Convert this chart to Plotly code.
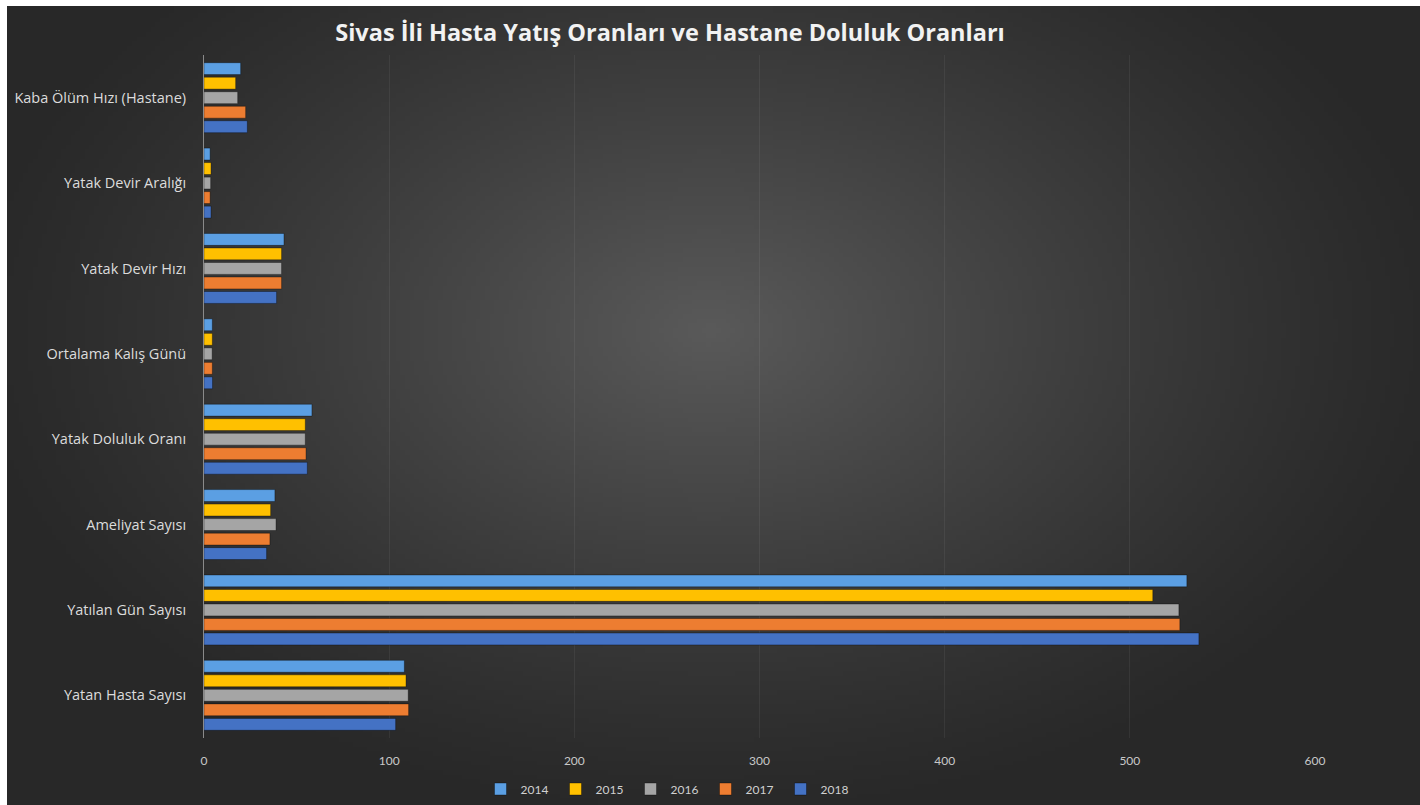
import base64, struct, zlib
import numpy as np
import plotly.graph_objects as go

categories = ["Kaba Ölüm Hızı (Hastane)", "Yatak Devir Aralığı", "Yatak Devir Hızı",
              "Ortalama Kalış Günü", "Yatak Doluluk Oranı", "Ameliyat Sayısı",
              "Yatılan Gün Sayısı", "Yatan Hasta Sayısı"]
years = ["2014", "2015", "2016", "2017", "2018"]
v2014 = [19.8, 3.3, 43.2, 4.5, 58.3, 38.3, 530.8, 108.2]
v2015 = [17.1, 3.8, 41.9, 4.5, 54.7, 36.0, 512.4, 109.1]
v2016 = [18.2, 3.6, 41.9, 4.4, 54.7, 38.9, 526.5, 110.3]
v2017 = [22.5, 3.3, 41.9, 4.5, 55.1, 35.6, 527.0, 110.5]
v2018 = [23.4, 3.8, 39.2, 4.6, 55.8, 33.8, 537.3, 103.5]
series = [v2014, v2015, v2016, v2017, v2018]
colors = ["#5b9fe3", "#ffc000", "#a5a5a5", "#ed7d31", "#4472c4"]
x_ticks = [0, 100, 200, 300, 400, 500, 600]

TITLE = "Sivas İli Hasta Yatış Oranları ve Hastane Doluluk Oranları"

FW, FH = 1420, 805
L, R, T, B = 204, FW - 1315, 55, FH - 738
W, H = FW - L - R, FH - T - B
bx0, by0 = 7, 6  # white strip at top/left of the reference

# ---- background radial gradient image ----
gw, gh = 300, 170
xs = np.linspace(bx0, FW, gw)
ys = np.linspace(by0, FH, gh)
X, Y = np.meshgrid(xs, ys)
cx, cy, rx, ry = 710, 330, 760, 500
d = np.clip(np.sqrt(((X - cx) / rx) ** 2 + ((Y - cy) / ry) ** 2), 0, 1)
val = 40 + 50 * (1 - d) ** 1.2
img = np.stack([val, val, val], axis=-1).astype(np.uint8)


def to_png(arr):
    h, w, _ = arr.shape
    raw = b"".join(b"\x00" + arr[i].tobytes() for i in range(h))

    def chunk(tag, data):
        c = tag + data
        return struct.pack(">I", len(data)) + c + struct.pack(">I", zlib.crc32(c) & 0xFFFFFFFF)

    return (b"\x89PNG\r\n\x1a\n" + chunk(b"IHDR", struct.pack(">IIBBBBB", w, h, 8, 2, 0, 0, 0))
            + chunk(b"IDAT", zlib.compress(raw, 9)) + chunk(b"IEND", b""))


uri = "data:image/png;base64," + base64.b64encode(to_png(img)).decode()


def px_x(p):
    return (p - L) / W


def px_y(p):
    return (FH - B - p) / H


fig = go.Figure()
for yr, vals, col in zip(years, series, colors):
    fig.add_trace(go.Bar(
        y=categories, x=vals, name=yr, orientation="h",
        marker=dict(color=col, line=dict(color="rgba(0,0,0,0.35)", width=1)),
    ))

fig.update_layout(
    width=FW, height=FH,
    margin=dict(l=L, r=R, t=T, b=B, pad=0, autoexpand=False),
    paper_bgcolor="white",
    plot_bgcolor="rgba(0,0,0,0)",
    barmode="group", bargap=0.15, bargroupgap=0.18,
    font=dict(family="Open Sans, sans-serif", color="#d9d9d9", size=12),
    title=dict(text="<b>" + TITLE + "</b>", x=670 / FW, xref="container", xanchor="center",
               y=1 - 33 / FH, yref="container", yanchor="middle",
               font=dict(size=23.5, color="#f2f2f2", family="Open Sans, sans-serif")),
    legend=dict(orientation="h", xref="container", yref="container",
                x=668 / FW, xanchor="center", y=1 - 789 / FH, yanchor="middle",
                font=dict(size=12, color="#d0d0d0", family="Lato, sans-serif"),
                itemwidth=30, entrywidth=30, entrywidthmode="pixels",
                bgcolor="rgba(0,0,0,0)"),
    images=[dict(source=uri, xref="paper", yref="paper", x=px_x(bx0), y=px_y(by0),
                 sizex=(FW - bx0) / W, sizey=(FH - by0) / H, xanchor="left", yanchor="top",
                 sizing="stretch", layer="below")],
    showlegend=True,
)
fig.update_xaxes(range=[0, 600], tickvals=x_ticks, showgrid=True, automargin=False,
                 gridcolor="rgba(255,255,255,0.06)", zeroline=False, showline=False,
                 tickfont=dict(size=12, color="#c8c8c8", family="Lato, sans-serif"),
                 ticklabelstandoff=14)
fig.update_yaxes(autorange="reversed", showline=True, linecolor="#8a8a8a", linewidth=1,
                 automargin=False, showgrid=False,
                 tickfont=dict(size=14.5, color="#dcdcdc"), ticklabelstandoff=14)

fig.write_html("out.html", config={"displayModeBar": False},
               post_script="document.body.style.margin='0';document.body.style.overflow='hidden';")
